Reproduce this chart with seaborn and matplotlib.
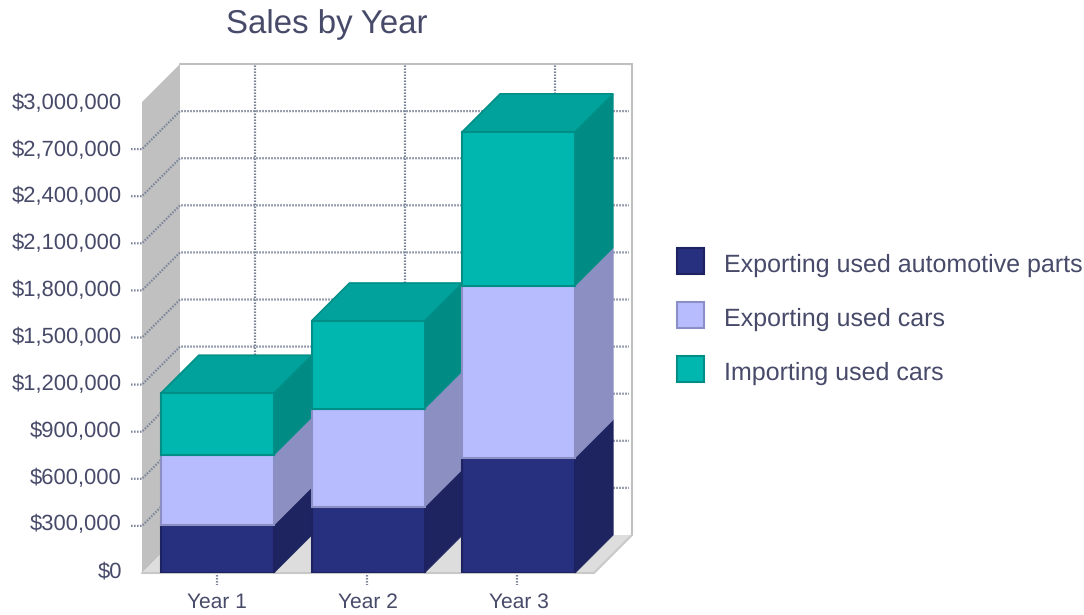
import numpy as np
import pandas as pd
import seaborn as sns
import matplotlib.pyplot as plt
from matplotlib.patches import Patch, Polygon
from matplotlib.transforms import ScaledTranslation

years = ["Year 1", "Year 2", "Year 3"]
auto_parts = [305000, 420000, 735000]
used_cars = [445000, 625000, 1095000]
import_cars = [395000, 560000, 980000]
series_names = ["Exporting used automotive parts", "Exporting used cars", "Importing used cars"]
y_ticks = [0, 300000, 600000, 900000, 1200000, 1500000, 1800000, 2100000, 2400000, 2700000, 3000000]

FRONT = ["#272F7F", "#B7BCFF", "#00B7B0"]
EDGE = ["#1D2360", "#8B8FC4", "#008E87"]
SIDE = ["#1E2460", "#8B8FC2", "#008C85"]
TOP = "#00A29B"
TEXT = "#474A69"
GRID = "#7A8499"
WALL = "#C0C0C0"
FLOOR = "#DDDDDD"

W, H = 1084, 615
BAR_WIDTH = 0.75
AX_W = 452

sns.set_theme(style="white")
plt.rcParams["font.family"] = ["Liberation Sans", "DejaVu Sans"]
plt.rcParams["text.hinting"] = "no_hinting"
plt.rcParams["text.hinting_factor"] = 1

fig = plt.figure(figsize=(W / 100, H / 100), dpi=100)
ax = fig.add_axes([142 / W, 1 - 573 / H, AX_W / W, 471 / H])

df = pd.DataFrame({"year": years, "a": auto_parts, "b": used_cars, "c": import_cars})
stack_bottom = np.zeros(len(years))
stacks = []
for i, col in enumerate(["a", "b", "c"]):
    sns.barplot(data=df, x="year", y=col, ax=ax, color=FRONT[i], saturation=1,
                width=BAR_WIDTH, bottom=stack_bottom, edgecolor=EDGE[i],
                linewidth=1.5, zorder=5)
    stacks.append((stack_bottom.copy(), stack_bottom + df[col].to_numpy()))
    stack_bottom = stack_bottom + df[col].to_numpy()

ax.set_xlim(-0.5, 2.5)
ax.set_ylim(0, 3000000)
ax.set_xlabel("")
ax.set_ylabel("")
for s in ax.spines.values():
    s.set_visible(False)
ax.patch.set_alpha(0)

# Depth of the extrusion in data units
dx = 38 / (AX_W / 3)
dy = 38 / 471 * 3000000
x0, x1 = -0.5, 2.5
ymax = 3000000


def poly(points, **kw):
    ax.add_patch(Polygon(points, closed=True, clip_on=False, **kw))


# Walls and floor of the box
poly([(x0, 0), (x0 + dx, dy), (x0 + dx, ymax + dy), (x0, ymax)], fc=WALL, ec="none", zorder=1)
poly([(x0, 0), (x0 + dx, dy), (x1 + dx, dy), (x1, 0)], fc=FLOOR, ec="none", zorder=1)
ax.plot([x0 + dx, x1 + dx, x1 + dx], [ymax + dy, ymax + dy, dy], color=WALL, lw=1.5,
        clip_on=False, zorder=1, solid_joinstyle="miter")
ax.plot([x0, x1, x1 + dx], [0, 0, dy], color="#C8C8C8", lw=1.5, clip_on=False, zorder=1)

# Dotted grid wrapping from the outer tick across the side and back walls
tick_out = 11 / (AX_W / 3)
grid_step = 150 / (AX_W / 3)
dots = dict(color=GRID, lw=1.6, linestyle=(0, (0.7, 0.65)), clip_on=False, zorder=2)
for v in y_ticks[1:-1]:
    ax.plot([x0 - tick_out, x0, x0 + dx, x1 + dx - 0.02],
            [v, v, v + dy, v + dy], **dots)
for i in range(len(years)):
    ax.plot([i * grid_step + dx] * 2, [dy, ymax + dy], **dots)
    ax.plot([i * grid_step] * 2, [-13000, -75000], **dots)

# Side faces of every segment, and the cap on the top segment
half = BAR_WIDTH / 2
for i, (lows, highs) in enumerate(stacks):
    for j in range(len(years)):
        r = j + half
        poly([(r, lows[j]), (r + dx, lows[j] + dy), (r + dx, highs[j] + dy), (r, highs[j])],
             fc=SIDE[i], ec=SIDE[i], lw=0.6, zorder=4)
tops = stacks[-1][1]
for j in range(len(years)):
    l, r = j - half, j + half
    poly([(l, tops[j]), (l + dx, tops[j] + dy), (r + dx, tops[j] + dy), (r, tops[j])],
         fc=TOP, ec=EDGE[2], lw=1.2, zorder=4)

ax.set_yticks(y_ticks)
ax.set_yticklabels([f"${v:,}" for v in y_ticks])
ax.tick_params(axis="y", length=0, pad=14.4, labelsize=15.55, labelcolor=TEXT)
ax.tick_params(axis="x", length=0, pad=14.2, labelsize=14.9, labelcolor=TEXT)

# Value labels sit on a slightly tighter rhythm than the axis itself
for label, v in zip(ax.get_yticklabels(), y_ticks):
    lift = 1 + 2.5 * (1 - v / ymax)
    label.set_transform(label.get_transform()
                        + ScaledTranslation(0, lift / 100, fig.dpi_scale_trans))

ax.text((327 - 142) / AX_W, 1 + 77 / 471, "Sales by Year", transform=ax.transAxes,
        ha="center", va="center", fontsize=23.6, color=TEXT)

handles = [Patch(fc=FRONT[i], ec=EDGE[i], lw=1.5, label=series_names[i]) for i in range(3)]
legend = fig.legend(handles=handles, loc="center left", bbox_to_anchor=(677 / W, 1 - 315 / H),
                    frameon=False, fontsize=17.75, labelcolor=TEXT, borderpad=0, borderaxespad=0,
                    handlelength=1.08, handleheight=1.27, handletextpad=0.81, labelspacing=1.11)
# Legend labels ride a little below the centre of their swatches
for t in legend.get_texts():
    t.set_y(-2.5)

fig.savefig("out.png", dpi=100)
